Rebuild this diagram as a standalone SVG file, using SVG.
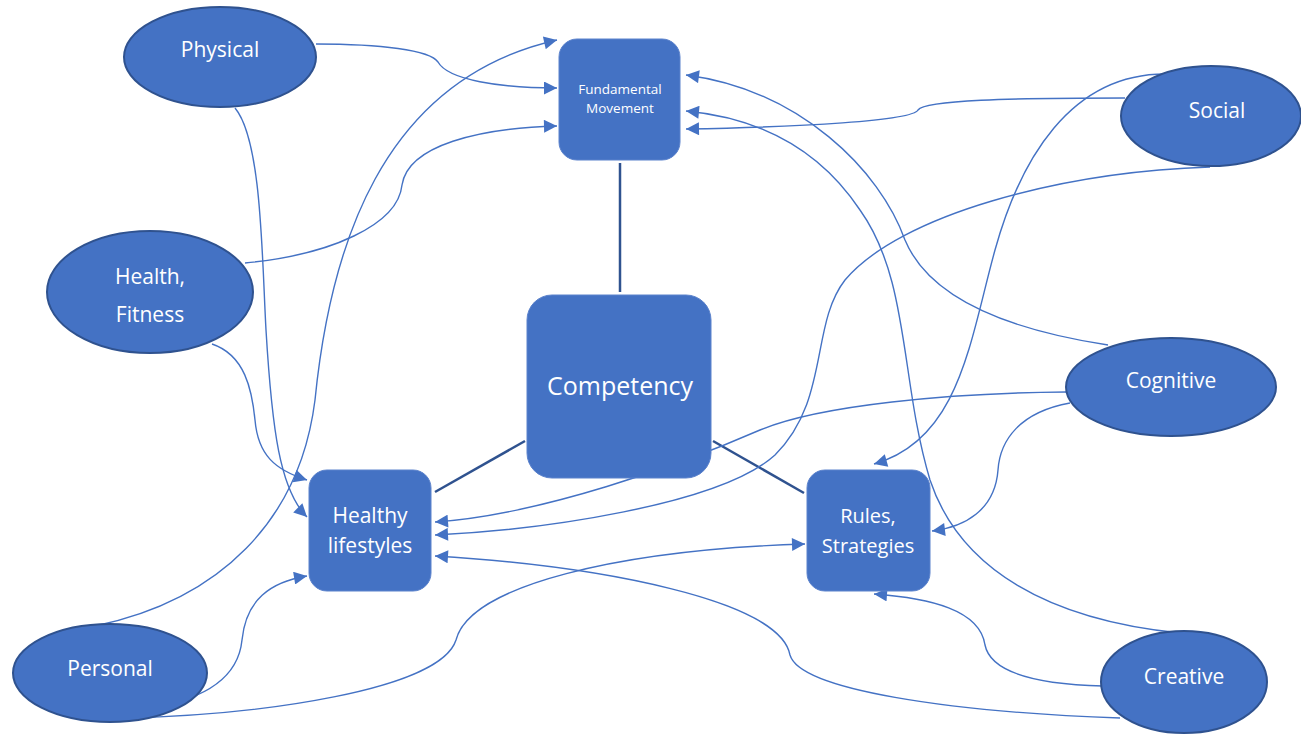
<svg xmlns="http://www.w3.org/2000/svg" width="1301" height="734" viewBox="0 0 1301 734">
<style>
.ell{fill:#4472C4;stroke:#2F528F;stroke-width:2}
.box{fill:#4472C4;stroke:#5B82CC;stroke-width:1}
.t{fill:#fff;font-family:"Open Sans","Noto Sans","Liberation Sans",sans-serif;text-anchor:middle}
.c{fill:none;stroke:#4472C4;stroke-width:1.4;marker-end:url(#a)}
.d{fill:none;stroke:#2F528F;stroke-width:2.5}
</style>
<defs>
<marker id="a" viewBox="0 0 10 10" refX="10" refY="5" markerWidth="15" markerHeight="13" markerUnits="userSpaceOnUse" orient="auto"><path d="M0,0 L10,5 L0,10z" fill="#4472C4"/></marker>
</defs>
<rect width="1301" height="734" fill="#fff"/>
<g id="connectors">
<path class="d" d="M620,163 L620,292"/>
<path class="d" d="M525,441 L435,492"/>
<path class="d" d="M713,441 L804,493"/>
<path class="c" d="M316,44 C380,44 430,50 438,62 C448,80 500,88 557,88"/>
<path class="c" d="M235,108 C262,140 262,260 266,330 C272,430 280,490 307,517"/>
<path class="c" d="M245,263 C330,255 398,225 402,185 C408,145 480,128 557,126"/>
<path class="c" d="M212,344 C245,355 252,390 255,420 C258,455 275,470 307,480"/>
<path class="c" d="M95,626 C220,600 300,520 315,400 C330,250 380,80 557,40"/>
<path class="c" d="M150,708 C200,700 238,680 242,640 C246,600 270,582 307,576"/>
<path class="c" d="M125,718 C260,715 440,690 456,640 C470,585 620,550 805,544"/>
<path class="c" d="M1125,98 C1010,98 925,100 918,110 C912,121 800,127 686,129"/>
<path class="c" d="M1165,74 C1070,74 1020,160 995,250 C970,340 960,440 874,464"/>
<path class="c" d="M1210,167 C1060,172 900,215 845,280 C810,325 830,400 775,455 C720,505 540,530 435,535"/>
<path class="c" d="M1066,392 C950,393 820,405 760,430 C680,465 540,515 435,522"/>
<path class="c" d="M1070,403 C1020,412 1000,440 998,470 C995,510 965,527 932,531"/>
<path class="c" d="M1108,345 C1010,330 930,300 905,240 C880,170 800,90 686,75"/>
<path class="c" d="M1180,633 C1050,620 960,570 930,480 C900,380 910,280 860,210 C820,150 760,118 686,111"/>
<path class="c" d="M1103,686 C1030,684 990,670 985,645 C980,610 930,598 874,594"/>
<path class="c" d="M1120,718 C950,712 800,690 790,655 C780,600 600,566 435,556"/>
</g>
<g id="physical"><ellipse class="ell" cx="220" cy="57" rx="96" ry="50"/><text class="t" x="220" y="57" font-size="21">Physical</text></g>
<g id="health-fitness"><ellipse class="ell" cx="150" cy="292" rx="103" ry="61"/><text class="t" x="150" y="284" font-size="21">Health,</text><text class="t" x="150" y="322" font-size="21">Fitness</text></g>
<g id="personal"><ellipse class="ell" cx="110" cy="673" rx="97" ry="49"/><text class="t" x="110" y="676" font-size="21">Personal</text></g>
<g id="social"><ellipse class="ell" cx="1211" cy="116" rx="90" ry="50"/><text class="t" x="1217" y="118" font-size="21">Social</text></g>
<g id="cognitive"><ellipse class="ell" cx="1171" cy="387" rx="105" ry="49"/><text class="t" x="1171" y="388" font-size="21">Cognitive</text></g>
<g id="creative"><ellipse class="ell" cx="1184" cy="682" rx="83" ry="51"/><text class="t" x="1184" y="684" font-size="21">Creative</text></g>
<g id="fundamental-movement"><rect class="box" x="559" y="39" width="121" height="121" rx="18"/><text class="t" x="620" y="94" font-size="13.5">Fundamental</text><text class="t" x="620" y="113" font-size="13.5">Movement</text></g>
<g id="competency"><rect class="box" x="527" y="295" width="184" height="183" rx="25"/><text class="t" x="620" y="395" font-size="25">Competency</text></g>
<g id="healthy-lifestyles"><rect class="box" x="309" y="470" width="122" height="121" rx="18"/><text class="t" x="370" y="523" font-size="21">Healthy</text><text class="t" x="370" y="553" font-size="21">lifestyles</text></g>
<g id="rules-strategies"><rect class="box" x="807" y="470" width="123" height="121" rx="18"/><text class="t" x="868" y="523" font-size="20">Rules,</text><text class="t" x="868" y="553" font-size="20">Strategies</text></g>
</svg>
